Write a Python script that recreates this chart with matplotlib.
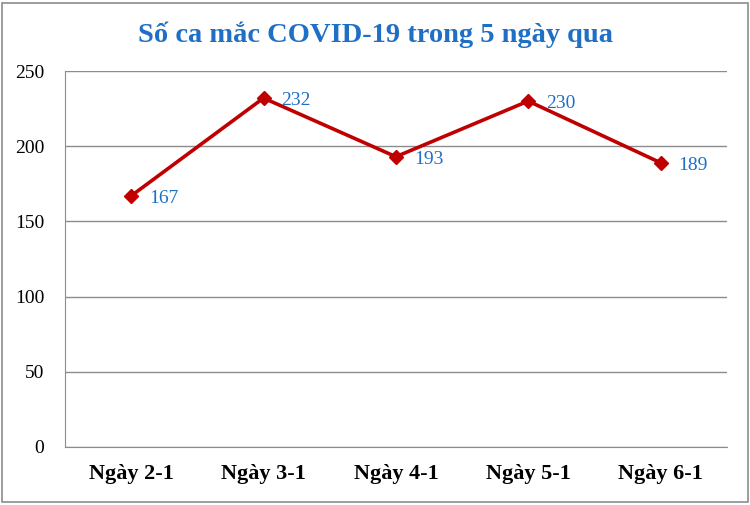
import matplotlib
matplotlib.use("Agg")
import matplotlib.pyplot as plt
from matplotlib.patches import Rectangle

categories = ["Ngày 2-1", "Ngày 3-1", "Ngày 4-1", "Ngày 5-1", "Ngày 6-1"]
values = [167, 232, 193, 230, 189]
yticks = [0, 50, 100, 150, 200, 250]
title = "Số ca mắc COVID-19 trong 5 ngày qua"

plt.rcParams['font.family'] = ['Liberation Serif', 'DejaVu Serif']

fig = plt.figure(figsize=(7.5, 5.05), dpi=100)
ax = fig.add_axes([0.0867, 0.1149, 0.969 - 0.0867, 0.8594 - 0.1149])

x = list(range(len(categories)))
ax.plot(x, values, color="#C00000", linewidth=2.6, marker="D", markersize=7,
        markerfacecolor="#C00000", markeredgecolor="#C00000", zorder=3)
for xi, v in zip(x, values):
    ax.annotate(str(v), (xi, v), xytext=(13, -2), textcoords="offset points",
                ha="left", va="center", color="#1F6FC5", fontsize=14)

ax.set_xlim(-0.5, len(categories) - 0.5)
ax.set_ylim(0, 250)
ax.set_yticks(yticks)
ax.set_yticklabels([str(t) for t in yticks], fontsize=14)
ax.set_xticks(x)
ax.set_xticklabels(categories, fontsize=16, fontweight="bold")
ax.tick_params(axis="both", length=0)
ax.tick_params(axis="x", pad=12)
ax.tick_params(axis="y", pad=15)

ax.grid(axis="y", color="#8C8C8C", linewidth=1)
ax.set_axisbelow(True)
for s in ["top", "right"]:
    ax.spines[s].set_visible(False)
ax.spines["left"].set_color("#8C8C8C")
ax.spines["bottom"].set_color("#8C8C8C")

fig.text(0.5, 0.932, title, ha="center", va="center", fontsize=20.5,
         fontweight="bold", color="#1F6FC5")

fig.patches.append(Rectangle((0.003, 0.006), 0.994, 0.988, transform=fig.transFigure,
                             fill=False, edgecolor="#8C8C8C", linewidth=1.2))

fig.savefig("out.png", dpi=100)
